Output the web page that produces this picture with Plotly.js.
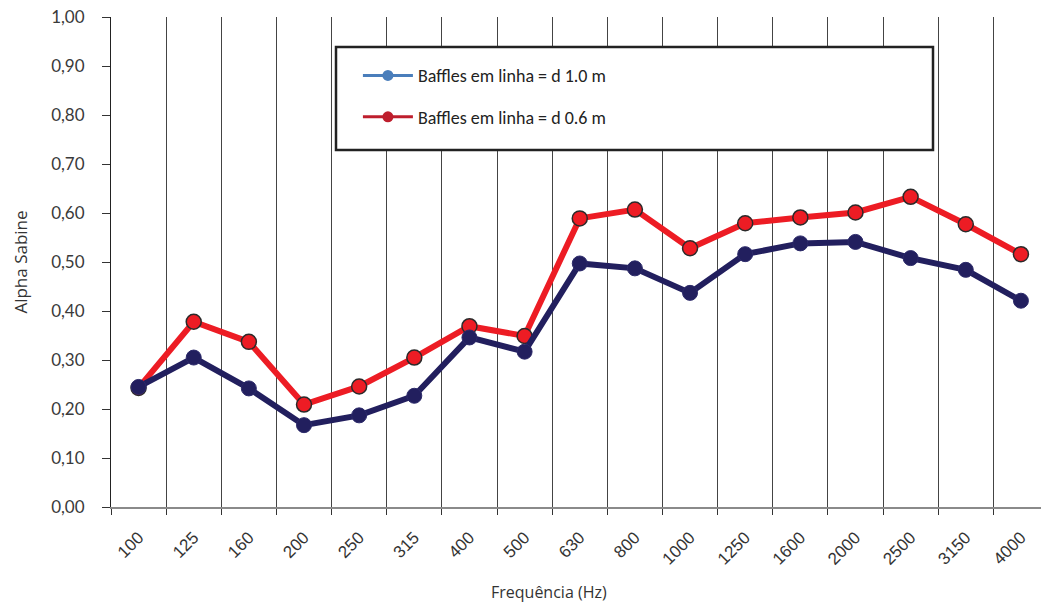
<!DOCTYPE html>
<html>
<head>
<meta charset="utf-8">
<script src="https://cdn.plot.ly/plotly-3.0.1.min.js"></script>
<style>
  html, body { margin: 0; padding: 0; background: #ffffff; }
  #chart { width: 1041px; height: 604px; }
</style>
</head>
<body>
<div id="chart"></div>
<script>
// ---- data ----
const categories = ['100', '125', '160', '200', '250', '315', '400', '500', '630', '800', '1000', '1250', '1600', '2000', '2500', '3150', '4000'];
const seriesNames = ['Baffles em linha = d 1.0 m', 'Baffles em linha = d 0.6 m'];
const alphaD10 = [0.245, 0.305, 0.242, 0.167, 0.187, 0.227, 0.346, 0.317, 0.497, 0.487, 0.437, 0.516, 0.538, 0.541, 0.508, 0.484, 0.421];
const alphaD06 = [0.243, 0.378, 0.337, 0.209, 0.246, 0.305, 0.369, 0.349, 0.589, 0.607, 0.528, 0.579, 0.591, 0.601, 0.633, 0.577, 0.516];
const yTickValues = [0, 0.1, 0.2, 0.3, 0.4, 0.5, 0.6, 0.7, 0.8, 0.9, 1.0];
const xTitle = 'Frequência (Hz)';
const yTitle = 'Alpha Sabine';

// ---- traces ----
const navy = '#221f5e';
const red = '#ed1c24';

const traces = [
  {
    x: categories, y: alphaD06, type: 'scatter', mode: 'lines+markers',
    name: seriesNames[1], showlegend: false,
    line: { color: red, width: 6 },
    marker: { color: red, size: 15, line: { color: '#2a2a2a', width: 1.5 } }
  },
  {
    x: categories, y: alphaD10, type: 'scatter', mode: 'lines+markers',
    name: seriesNames[0], showlegend: false,
    line: { color: navy, width: 6 },
    marker: { color: navy, size: 15, line: { color: '#2c2a6a', width: 1 } }
  },
  // legend entries (Excel-style legend colours)
  {
    x: [null], y: [null], type: 'scatter', mode: 'lines+markers',
    name: seriesNames[0], legendgroup: 'a', showlegend: true,
    line: { color: '#4a7ebb', width: 3 },
    marker: { color: '#4a7ebb', size: 11 }
  },
  {
    x: [null], y: [null], type: 'scatter', mode: 'lines+markers',
    name: seriesNames[1], legendgroup: 'b', showlegend: true,
    line: { color: '#be1e2d', width: 3 },
    marker: { color: '#be1e2d', size: 11 }
  }
];

const plotLeft = 111, plotRight = 1041, catWidth = 55.15;
const xMax = 16.5 - (1048.5 - plotRight) / catWidth;

const layout = {
  width: 1041, height: 604,
  margin: { l: plotLeft, r: 0, t: 17, b: 97 },
  paper_bgcolor: '#ffffff', plot_bgcolor: '#ffffff',
  separators: ',.',
  showlegend: true,
  legend: {
    x: 0.2655, y: 0.918, xanchor: 'left', yanchor: 'top',
    bgcolor: 'rgba(0,0,0,0)', borderwidth: 0,
    traceorder: 'grouped', tracegroupgap: 15,
    itemwidth: 50,
    font: { family: 'Carlito, "Liberation Sans Narrow", Roboto, sans-serif', size: 18, color: '#222222' }
  },
  xaxis: {
    type: 'category',
    range: [-0.5, xMax],
    tickson: 'boundaries',
    showgrid: true, gridcolor: '#444444', gridwidth: 1,
    ticks: 'outside', ticklen: 6, tickcolor: '#333333',
    tickangle: -45,
    ticklabelstandoff: 12,
    tickfont: { family: '"Liberation Sans", Arial, sans-serif', size: 17, color: '#333333' },
    showline: true, linecolor: '#8a8a8a', linewidth: 2,
    zeroline: false, fixedrange: true,
    automargin: false
  },
  yaxis: {
    range: [0, 1],
    tickmode: 'array', tickvals: yTickValues, tickformat: '.2f',
    ticks: 'outside', ticklen: 8, tickcolor: '#333333',
    ticklabelstandoff: 14,
    tickfont: { family: 'Lato, "Open Sans", sans-serif', size: 17, color: '#3a3a3a' },
    showgrid: false, zeroline: false,
    showline: true, linecolor: '#222222', linewidth: 1,
    title: { text: yTitle, font: { family: '"Open Sans", Verdana, sans-serif', size: 17, color: '#333333' }, standoff: 19 },
    automargin: false, fixedrange: true
  },
  shapes: [
    { type: 'rect', xref: 'paper', yref: 'paper',
      x0: (336 - plotLeft) / (plotRight - plotLeft), x1: (933 - plotLeft) / (plotRight - plotLeft),
      y0: (507 - 150) / 490, y1: (507 - 47) / 490,
      line: { color: '#222222', width: 2.5 }, fillcolor: '#ffffff', layer: 'above' }
  ],
  annotations: [
    { text: xTitle, xref: 'paper', yref: 'paper',
      x: (548.7 - plotLeft) / (plotRight - plotLeft), y: (507 - 592) / 490,
      xanchor: 'center', yanchor: 'middle', showarrow: false,
      font: { family: '"Open Sans", Verdana, sans-serif', size: 16, color: '#333333' } }
  ]
};

Plotly.newPlot('chart', traces, layout, { displayModeBar: false, staticPlot: true });
</script>
</body>
</html>
